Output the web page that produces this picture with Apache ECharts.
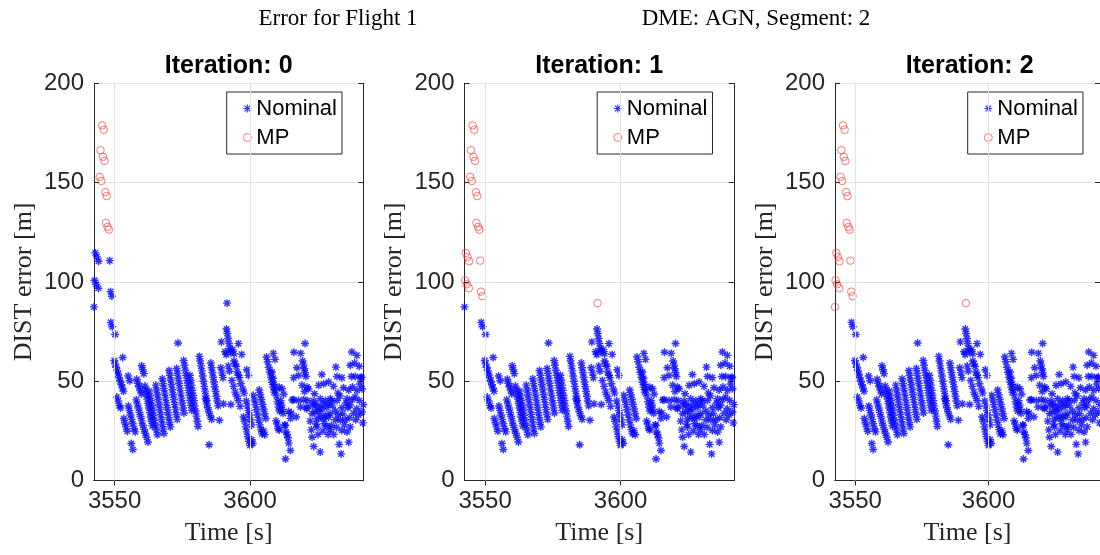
<!DOCTYPE html>
<html>
<head>
<meta charset="utf-8">
<script src="https://cdn.jsdelivr.net/npm/echarts@6/dist/echarts.min.js"></script>
<style>html,body{margin:0;padding:0;background:#fff}#c{width:1100px;height:555px}</style>
</head>
<body>
<div id="c"></div>
<script>
// ---------------- DATA ----------------
const panelTitles = ['Iteration: 0', 'Iteration: 1', 'Iteration: 2'];
const mainTitleLeft = 'Error for Flight 1';
const mainTitleRight = 'DME: AGN, Segment: 2';
const xTicks = [3550, 3600];
const yTicks = [0, 50, 100, 150, 200];
const seriesNames = ['Nominal', 'MP'];

// MP points in every iteration [time s, error m]
const mpAll = [
  [3545.4,178.8],[3546.0,176.6],[3544.8,166.3],[3545.7,163.0],[3546.3,160.9],
  [3544.5,152.9],[3545.1,150.8],[3546.6,145.2],[3547.1,143.2],
  [3546.8,129.7],[3547.4,127.7],[3547.9,126.3]
];
// nominal in iteration 0, MP from iteration 1 on
const flipIter1 = [
  [3542.9,114.6],[3543.5,112.6],[3544.1,110.4],[3548.2,110.7],
  [3542.6,100.8],[3543.2,98.8],[3544.0,96.8],[3548.5,95.1],[3549.0,92.8],
  [3591.5,89.3]
];
// nominal in iterations 0-1, MP in iteration 2
const flipIter2 = [[3542.4,87.4]];

// nominal in every iteration
const nominalAll = [
  [3548.6,79.6],[3549.1,77.4],[3550.2,73.5],
  [3549.9,60.4],[3550.2,58.7],[3550.6,57.0],[3551.0,55.2],[3551.3,53.6],[3551.7,51.7],[3552.1,50.0],[3552.5,48.2],[3552.9,46.5],[3553.3,45.0],
  [3550.8,42.0],[3551.3,40.0],[3551.8,37.8],[3552.2,36.5],
  [3553.0,61.9],
  [3553.4,31.2],[3553.8,29.1],[3554.2,27.0],[3554.7,24.8],
  [3555.0,52.6],[3555.6,50.2],
  [3555.1,37.5],[3555.5,35.3],[3555.9,33.0],[3556.3,30.8],[3556.7,28.6],[3557.2,26.2],[3557.6,24.5],
  [3556.2,18.6],[3556.7,15.6],
  [3558.2,51.0],[3558.6,49.0],[3559.0,47.2],[3559.5,45.3],[3559.9,43.6],
  [3558.0,40.6],[3558.4,38.6],[3558.8,36.5],[3559.2,34.3],[3559.6,32.2],[3560.0,30.0],[3560.4,27.8],[3560.9,25.7],[3561.3,23.8],
  [3560.0,57.8],[3560.4,55.8],[3560.8,53.8],
  [3561.8,21.8],[3562.3,19.4],
  [3561.2,47.6],[3561.5,45.5],[3561.8,43.2],[3562.1,41.0],[3562.4,38.8],[3562.7,36.5],[3563.0,34.2],[3563.3,32.0],[3563.6,29.8],[3563.9,27.5],
  [3562.8,45.0],[3563.1,42.6],[3563.4,40.2],[3563.8,37.8],[3564.1,35.3],[3564.4,32.8],[3564.7,30.3],[3565.1,27.8],[3565.4,25.4],[3565.8,23.0],
  [3565.2,48.0],[3565.5,45.6],[3565.8,43.2],[3566.1,40.8],[3566.4,38.3],[3566.7,35.8],[3567.0,33.3],[3567.3,30.8],[3567.6,28.4],[3567.9,26.0],[3568.2,23.7],
  [3567.6,51.2],[3567.9,48.8],[3568.2,46.4],[3568.5,44.0],[3568.8,41.6],[3569.1,39.1],[3569.4,36.6],[3569.7,34.1],[3570.0,31.6],[3570.3,29.2],[3570.6,27.0],
  [3570.1,55.4],[3570.4,53.0],[3570.7,50.6],[3571.0,48.2],[3571.3,45.7],[3571.6,43.2],[3571.9,40.7],[3572.2,38.2],[3572.5,35.7],[3572.8,33.2],[3573.1,30.8],
  [3573.4,69.2],
  [3572.9,56.4],[3573.2,54.0],[3573.5,51.5],[3573.8,49.0],[3574.1,46.5],[3574.4,44.0],[3574.7,41.5],[3575.0,39.0],[3575.3,36.5],[3575.6,34.0],
  [3575.5,60.4],[3575.8,58.0],[3576.1,55.5],[3576.4,53.0],[3576.7,50.4],[3577.0,47.9],[3577.3,45.4],[3577.6,42.9],[3577.9,40.4],[3578.2,37.9],[3578.5,35.4],
  [3577.8,53.0],[3578.1,50.5],[3578.4,48.0],[3578.7,45.4],[3579.0,42.8],[3579.3,40.2],[3579.6,37.6],[3579.9,35.0],[3580.2,32.4],[3580.5,29.8],[3580.8,27.2],
  [3581.3,62.5],[3581.6,60.2],[3581.9,57.7],[3582.2,55.2],[3582.5,52.6],[3582.8,50.0],[3583.1,47.4],[3583.4,45.0],[3583.7,42.6],[3584.0,40.2],
  [3584.9,18.0],
  [3583.6,41.0],[3584.0,38.6],[3584.4,36.6],[3584.8,34.6],[3585.3,32.6],[3585.8,30.8],
  [3585.5,59.2],[3585.8,56.8],[3586.1,54.4],[3586.4,52.0],[3586.7,49.6],[3587.0,47.2],[3587.3,44.8],[3587.6,42.4],[3587.9,40.0],[3588.2,37.6],
  [3588.7,30.3],
  [3589.4,69.8],[3589.2,56.8],[3589.6,54.2],[3590.0,51.8],[3590.2,38.6],
  [3590.8,64.8],[3591.2,63.4],
  [3591.3,76.3],[3591.6,74.0],[3591.9,71.5],[3592.2,69.0],[3592.5,66.5],[3592.8,64.5],
  [3593.6,65.9],[3594.1,63.9],[3595.7,68.9],[3596.9,63.5],
  [3592.0,57.6],[3592.4,55.0],[3593.3,50.4],[3593.9,47.4],[3594.5,44.5],[3595.1,42.4],[3595.7,40.3],[3596.3,37.3],
  [3594.1,60.2],[3594.5,58.6],[3594.9,57.5],[3595.3,54.6],[3595.7,53.0],[3596.1,51.8],[3596.6,48.7],[3597.3,46.1],[3597.8,44.0],
  [3592.9,38.3],
  [3598.8,55.8],[3599.4,52.9],
  [3597.6,32.0],[3598.0,29.8],[3598.4,27.0],[3598.8,24.5],[3599.2,22.0],[3599.6,19.8],[3600.0,17.6],
  [3598.6,40.0],[3599.0,37.6],[3599.4,35.2],[3599.8,33.0],[3600.2,30.6],[3600.6,28.0],
  [3601.2,42.9],[3601.6,40.5],[3602.0,38.2],[3602.4,35.6],[3602.8,33.0],[3603.2,30.5],[3603.6,28.0],[3604.0,25.6],[3604.4,23.5],
  [3600.6,20.5],[3601.0,18.6],
  [3603.4,45.6],[3603.8,43.2],[3604.2,40.8],[3604.6,38.4],[3605.0,36.0],[3605.4,33.6],[3605.8,31.2],[3605.0,25.0],[3605.4,23.0],
  [3606.1,62.2],[3606.5,59.8],[3606.9,57.0],[3607.3,54.5],[3607.7,52.0],[3608.1,49.5],[3608.5,47.0],[3608.9,44.5],
  [3608.6,64.0],[3609.2,61.0],
  [3608.1,54.6],[3608.5,51.5],[3608.9,48.5],[3609.3,45.6],[3609.7,42.6],[3610.1,39.6],[3610.5,37.0],[3610.9,35.0],
  [3610.8,47.0],[3611.8,46.2],[3612.4,43.4],
  [3609.6,30.0],[3610.0,28.4],[3610.4,26.2],[3610.8,25.4],
  [3611.3,40.2],[3611.6,38.0],[3611.9,35.8],[3612.2,33.8],
  [3613.0,27.7],[3613.3,24.4],[3613.6,23.2],[3614.0,21.5],[3614.3,18.8],[3614.9,15.1],
  [3613.1,10.8],[3612.8,28.0],
  [3614.3,34.7],[3614.9,31.3],[3615.2,34.0],[3615.6,40.5],[3617.0,32.0],
  [3616.2,64.6],[3618.7,64.0],
  [3617.3,56.8],[3617.9,52.9],[3616.1,51.8],
  [3620.3,69.0],
  [3619.4,60.2],[3619.7,58.2],[3620.0,56.3],[3620.3,54.3],[3620.6,52.4],
  [3619.2,47.9],[3621.0,47.1],[3621.6,46.2],
  [3616.1,40.7],[3617.9,40.3],[3619.8,40.7],
  [3618.6,37.0],[3621.0,36.1],[3622.9,37.8],
  [3625.3,47.9],[3627.2,48.7],[3629.0,49.6],[3630.8,47.4],[3634.5,46.7],[3637.8,47.1],[3639.4,45.4],[3641.3,46.2],
  [3623.8,43.7],[3625.9,41.2],[3627.8,40.3],[3629.6,41.2],[3630.2,40.3],[3632.1,40.3],[3635.8,41.2],[3637.6,40.7],[3638.8,42.0],[3640.3,40.3],
  [3625.1,37.0],[3626.5,36.1],
  [3622.9,33.6],[3626.0,31.9],[3627.8,32.8],[3629.6,33.6],[3631.5,35.0],[3633.9,36.6],[3636.1,36.6],[3639.4,36.1],[3641.3,34.5],
  [3622.2,29.9],[3624.7,31.1],[3627.2,31.1],[3629.0,31.9],[3631.5,30.6],[3633.3,30.3],[3635.1,30.6],[3636.6,31.6],
  [3622.6,25.5],[3624.7,26.9],[3628.4,27.2],[3630.0,27.7],[3633.9,25.2],[3635.8,24.4],
  [3622.9,21.8],[3625.1,23.2],[3628.8,23.2],[3630.9,23.2],
  [3623.5,17.1],[3625.9,14.3],[3632.9,18.2],[3633.6,13.4],[3636.4,19.3],
  [3641.6,29.0],
  [3626.5,53.4],[3631.7,57.1],[3637.6,64.7],[3639.4,63.0],[3637.0,58.0],[3638.6,59.2],[3640.3,57.5],
  [3640.7,51.8],[3638.8,52.4],[3637.4,52.4],[3632.1,52.4],[3633.9,51.8],
  [3623.4,40.0],[3624.2,38.4],[3624.0,34.8],[3625.5,34.6],[3626.8,38.6],[3628.3,36.8],[3628.9,38.4],[3630.4,37.6],
  [3632.6,33.0],[3634.2,33.6],[3635.4,39.0],[3636.9,38.0],[3638.2,33.8],[3639.0,30.6],[3640.1,33.0],[3641.8,38.2],
  [3632.4,44.0],[3633.2,42.6],[3636.4,45.6],[3640.6,48.6],[3641.2,52.0],
  [3624.4,28.4],[3626.9,25.0],[3627.4,28.6],[3629.6,25.6],[3631.9,26.8],[3634.8,28.0],[3637.0,27.0],
  [3621.3,40.2],[3620.8,36.8],[3620.1,44.8]
];

// ---------------- CHART ----------------
const X_MIN = 3542.4, X_MAX = 3641.8;
const panels = [
  {left: 94, nominal: nominalAll.concat(flipIter1, flipIter2), mp: mpAll},
  {left: 464.5, nominal: nominalAll.concat(flipIter2), mp: mpAll.concat(flipIter1)},
  {left: 835, nominal: nominalAll, mp: mpAll.concat(flipIter1, flipIter2)}
];
const GW = 269.3, GT = 83.3, GH = 397.2;
const axisColor = '#262626';
const gridColor = '#e2e2e2';
const mpColor = '#ff2a2a';
const sans = '"Liberation Sans", Arial, Helvetica, sans-serif';
const serif = '"Liberation Serif", "DejaVu Serif", serif';
const asterisk = 'path://M5,0L5,10M0,5L10,5M1.5,1.5L8.5,8.5M1.5,8.5L8.5,1.5';
const plainNum = v => String(v);

const grids = [], xAxes = [], yAxes = [], series = [], legends = [], graphics = [];
panels.forEach((p, i) => {
  grids.push({left: p.left, top: GT, width: GW, height: GH, containLabel: false});
  xAxes.push({
    type: 'value', gridIndex: i, min: X_MIN, max: X_MAX, position: 'bottom',
    name: 'Time [s]', nameLocation: 'middle', nameGap: 40,
    nameTextStyle: {fontFamily: serif, fontSize: 26, color: axisColor},
    axisLine: {show: true, lineStyle: {color: axisColor, width: 1}},
    axisTick: {show: true, inside: true, length: 5, customValues: xTicks, lineStyle: {color: axisColor}},
    axisLabel: {show: true, customValues: xTicks, formatter: plainNum, fontFamily: sans, fontSize: 24, color: axisColor, margin: 9},
    splitLine: {show: false}
  });
  xAxes.push({
    type: 'value', gridIndex: i, min: X_MIN, max: X_MAX, position: 'top',
    axisLine: {show: true, lineStyle: {color: axisColor, width: 1}},
    axisTick: {show: true, inside: true, length: 5, customValues: xTicks, lineStyle: {color: axisColor}},
    axisLabel: {show: false}, splitLine: {show: false}
  });
  yAxes.push({
    type: 'value', gridIndex: i, min: yTicks[0], max: yTicks[yTicks.length - 1], interval: 50, position: 'left',
    name: 'DIST error [m]', nameLocation: 'middle', nameGap: 57, nameRotate: 90,
    nameTextStyle: {fontFamily: serif, fontSize: 26, color: axisColor},
    axisLine: {show: true, lineStyle: {color: axisColor, width: 1}},
    axisTick: {show: true, inside: true, length: 5, lineStyle: {color: axisColor}},
    axisLabel: {show: true, formatter: plainNum, fontFamily: sans, fontSize: 24, color: axisColor, margin: 10},
    splitLine: {show: true, lineStyle: {color: gridColor, width: 1}}
  });
  yAxes.push({
    type: 'value', gridIndex: i, min: yTicks[0], max: yTicks[yTicks.length - 1], interval: 50, position: 'right',
    axisLine: {show: true, lineStyle: {color: axisColor, width: 1}},
    axisTick: {show: true, inside: true, length: 5, lineStyle: {color: axisColor}},
    axisLabel: {show: false}, splitLine: {show: false}
  });
  const xi = i * 2, yi = i * 2;
  series.push({
    type: 'line', xAxisIndex: xi, yAxisIndex: yi, data: [], silent: true, z: 1,
    markLine: {
      silent: true, symbol: ['none', 'none'], label: {show: false}, animation: false,
      lineStyle: {color: gridColor, width: 1, type: 'solid'},
      data: xTicks.map(v => ({xAxis: v}))
    }
  });
  series.push({
    name: seriesNames[0], type: 'scatter', xAxisIndex: xi, yAxisIndex: yi, z: 3,
    symbol: asterisk, symbolSize: 8,
    itemStyle: {color: '#0000ff', borderColor: '#0000ff', borderWidth: 1.4},
    data: p.nominal
  });
  series.push({
    name: seriesNames[1], type: 'scatter', xAxisIndex: xi, yAxisIndex: yi, z: 4,
    symbol: 'circle', symbolSize: 7.5,
    itemStyle: {color: 'rgba(255,255,255,0)', borderColor: mpColor, borderWidth: 0.8},
    data: p.mp
  });
  legends.push({
    orient: 'vertical', left: p.left + 132.7, top: 92,
    padding: [4, 5, 4, 16], itemGap: 4, itemWidth: 8, itemHeight: 8, itemTextGap: 17,
    backgroundColor: '#ffffff', borderColor: axisColor, borderWidth: 1,
    selectedMode: false,
    textStyle: {fontFamily: sans, fontSize: 22, color: '#000000', lineHeight: 25},
    data: [
      {name: seriesNames[0], icon: asterisk, itemStyle: {color: '#0000ff', borderColor: '#0000ff', borderWidth: 1.2}},
      {name: seriesNames[1], icon: 'circle', itemStyle: {color: 'rgba(255,255,255,0)', borderColor: mpColor, borderWidth: 0.8}}
    ]
  });
  graphics.push({
    type: 'text', x: p.left + GW / 2, y: 66, silent: true,
    style: {text: panelTitles[i], font: 'bold 25px ' + sans, fill: '#000', textAlign: 'center', textVerticalAlign: 'middle'}
  });
});
graphics.push({
  type: 'text', x: 338, y: 19, silent: true,
  style: {text: mainTitleLeft, font: '23px ' + serif, fill: '#000', textAlign: 'center', textVerticalAlign: 'middle'}
});
graphics.push({
  type: 'text', x: 756, y: 19, silent: true,
  style: {text: mainTitleRight, font: '23px ' + serif, fill: '#000', textAlign: 'center', textVerticalAlign: 'middle'}
});

const chart = echarts.init(document.getElementById('c'), null, {renderer: 'canvas'});
chart.setOption({
  animation: false,
  backgroundColor: '#ffffff',
  grid: grids, xAxis: xAxes, yAxis: yAxes, series: series, legend: legends, graphic: graphics
});
</script>
</body>
</html>
